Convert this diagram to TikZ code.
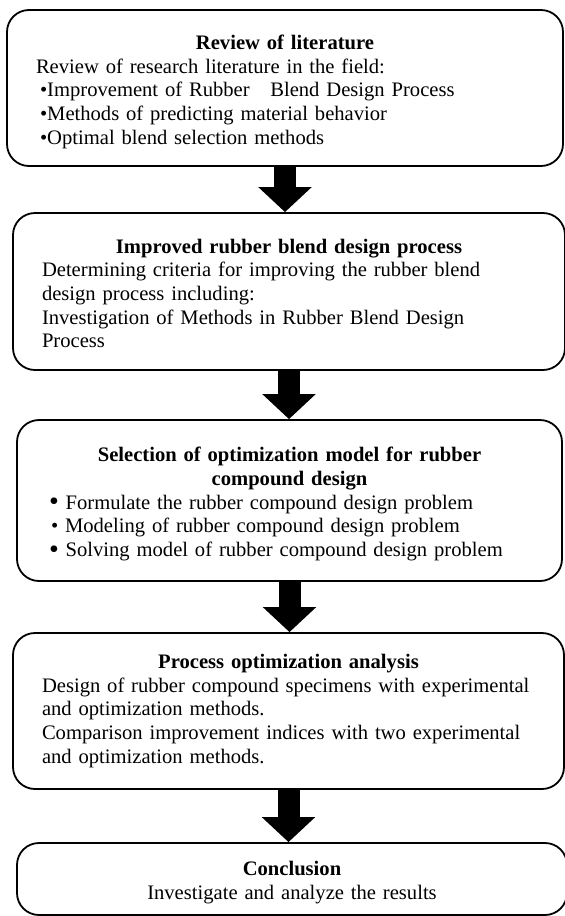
\documentclass[tikz,border=0pt]{standalone}
\usepackage{fontspec}
\setmainfont{Liberation Serif}
\usetikzlibrary{arrows.meta}
\newcommand{\steptitle}[1]{{\centering\bfseries #1\par}\leftskip=11pt\relax}
\newcommand{\bigbul}{\raisebox{-1.5pt}{\fontsize{28}{24}\selectfont •}}

\begin{document}
\begin{tikzpicture}[x=1pt,y=-1pt,
    stepbox/.style={draw,line width=1.8pt,rounded corners=22pt,inner xsep=18pt,inner ysep=0pt,
        align=left,font=\fontsize{20.6}{23.7}\selectfont},
    droptext/.style={text height=#1},
    blockarrow/.style={line width=22pt,-{Triangle[width=52pt,length=25pt]}}]
    \useasboundingbox (0,0) rectangle (565,916);
    \node[stepbox,droptext=22pt,text width=520pt,minimum height=156pt] (review) at (285,88)
        {\steptitle{Review of literature}
         Review of research literature in the field:\\
         \hspace*{4pt}•Improvement of Rubber\ \ \ Blend Design Process\\
         \hspace*{4pt}•Methods of predicting material behavior\\
         \hspace*{4pt}•Optimal blend selection methods\par};
    \node[stepbox,droptext=18pt,text width=516pt,minimum height=157pt] (improved) at (289,291.5)
        {\steptitle{Improved rubber blend design process}
         Determining criteria for improving the rubber blend\\
         design process including:\\
         Investigation of Methods in Rubber Blend Design\\
         Process\par};
    \node[stepbox,droptext=22pt,text width=509pt,minimum height=161pt] (selection) at (289.5,500.5)
        {\steptitle{Selection of optimization model for rubber\\ compound design}
         \hspace*{3pt}\bigbul\ Formulate the rubber compound design problem\\
         \hspace*{5pt}•\ Modeling of rubber compound design problem\\
         \hspace*{3pt}\bigbul\ Solving model of rubber compound design problem\par};
    \node[stepbox,text width=515pt,minimum height=156pt] (analysis) at (288.5,711)
        {\steptitle{Process optimization analysis}
         Design of rubber compound specimens with experimental\\
         and optimization methods.\\
         Comparison improvement indices with two experimental\\
         and optimization methods.\par};
    \node[stepbox,droptext=22pt,align=center,text width=514pt,minimum height=72pt] (conclusion) at (292,879)
        {\textbf{Conclusion}\\ Investigate and analyze the results};
    \draw[blockarrow] (review.south) -- (review.south |- improved.north);
    \draw[blockarrow] (improved.south) -- (improved.south |- selection.north);
    \draw[blockarrow] (selection.south) -- (selection.south |- analysis.north);
    \draw[blockarrow] (analysis.south) -- (analysis.south |- conclusion.north);
\end{tikzpicture}
\end{document}
